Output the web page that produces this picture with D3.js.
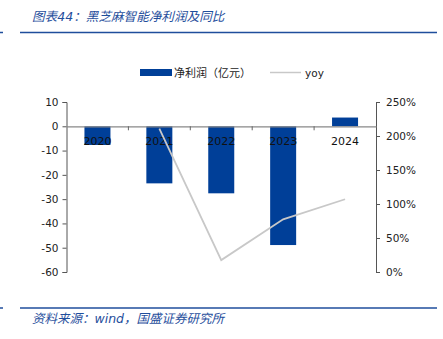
<!DOCTYPE html>
<html><head><meta charset="utf-8">
<script src="https://cdn.jsdelivr.net/npm/d3@7"></script>
<style>
body{margin:0;background:#fff;}
svg{display:block;}
text{font-family:"DejaVu Sans","Noto Sans CJK SC",sans-serif;}
</style></head>
<body>
<svg id="c" width="443" height="339"></svg>
<script>
const years = ["2020","2021","2022","2023","2024"];
const netProfit = [-7.7, -23.5, -27.6, -48.9, 3.6];
const yoy = [null, 211, 17.5, 77.5, 107];
const leftTicks = [10,0,-10,-20,-30,-40,-50,-60];
const rightTicks = [0,50,100,150,200,250];
const titleText = "图表44：黑芝麻智能净利润及同比";
const sourceText = "资料来源：wind，国盛证券研究所";
const legendLabels = ["净利润（亿元）","yoy"];

const svg = d3.select("#c");
const blue = "#003f98", titleBlue = "#1f4e9c", grey = "#c8c8c8", txt = "#222";
const L = 66.5, R = 376, T = 102, B = 272;

const x = d3.scaleBand().domain(years).range([L, R]).paddingInner(0.58).paddingOuter(0.29);
const xc = d3.scalePoint().domain(years).range([L, R]).padding(0.5);
const y = d3.scaleLinear().domain([-60, 10]).range([B, T]);
const y2 = d3.scaleLinear().domain([0, 250]).range([B, T]);

// title
svg.append("text").attr("x", 32).attr("y", 21).attr("fill", titleBlue)
  .attr("font-size", 12.6).attr("font-style", "italic")
  .attr("font-family", "'Noto Sans CJK SC',sans-serif").text(titleText);
svg.append("line").attr("x1", 20).attr("x2", 437).attr("y1", 32.5).attr("y2", 32.5)
  .attr("stroke", titleBlue).attr("stroke-width", 1.5);
svg.append("line").attr("x1", 0).attr("x2", 3).attr("y1", 32.5).attr("y2", 32.5)
  .attr("stroke", titleBlue).attr("stroke-width", 1.5);

// footer
svg.append("line").attr("x1", 20).attr("x2", 437).attr("y1", 308).attr("y2", 308)
  .attr("stroke", titleBlue).attr("stroke-width", 1.5);
svg.append("line").attr("x1", 0).attr("x2", 3).attr("y1", 308).attr("y2", 308)
  .attr("stroke", titleBlue).attr("stroke-width", 1.5);
svg.append("text").attr("x", 32).attr("y", 323).attr("fill", titleBlue)
  .attr("font-size", 12.5).attr("font-style", "italic")
  .attr("font-family", "'Noto Sans CJK SC',sans-serif").text(sourceText);

// legend
svg.append("rect").attr("x", 140).attr("y", 69).attr("width", 32).attr("height", 7).attr("fill", blue);
svg.append("text").attr("x", 174).attr("y", 76.5).attr("font-size", 11).attr("fill", txt)
  .attr("font-family", "'Noto Sans CJK SC',sans-serif").text(legendLabels[0]);
svg.append("line").attr("x1", 270).attr("x2", 301).attr("y1", 72.5).attr("y2", 72.5)
  .attr("stroke", grey).attr("stroke-width", 1.5);
svg.append("text").attr("x", 305).attr("y", 76.5).attr("font-size", 10.5).attr("fill", txt).text(legendLabels[1]);

// bars
svg.append("g").selectAll("rect").data(years).join("rect")
  .attr("x", d => x(d)).attr("width", x.bandwidth())
  .attr("y", (d,i) => y(Math.max(0, netProfit[i])))
  .attr("height", (d,i) => Math.abs(y(netProfit[i]) - y(0)))
  .attr("fill", blue);

// left axis
const ga = svg.append("g").attr("transform", `translate(${L},0)`)
  .call(d3.axisLeft(y).tickValues(leftTicks).tickFormat(d => String(d)).tickSize(4).tickPadding(4));
ga.selectAll("path,line").attr("stroke", "#555");
ga.selectAll("text").attr("font-size", 10.5).attr("fill", txt).attr("font-family", "'DejaVu Sans',sans-serif");

// right axis
const gr = svg.append("g").attr("transform", `translate(${R},0)`)
  .call(d3.axisRight(y2).tickValues(rightTicks).tickFormat(d => d + "%").tickSize(4).tickPadding(6));
gr.selectAll("path,line").attr("stroke", "#555");
gr.selectAll("text").attr("font-size", 10.5).attr("fill", txt);

// zero axis with category ticks
const gx = svg.append("g").attr("transform", `translate(0,${y(0)})`)
  .call(d3.axisBottom(x).tickSize(0).tickFormat(""));
gx.select("path").attr("stroke", "#888").attr("stroke-width", 1.2);
const step = x.step();
svg.append("g").selectAll("line").data(years.slice(1)).join("line")
  .attr("x1", d => xc(d) - step/2).attr("x2", d => xc(d) - step/2)
  .attr("y1", y(0)).attr("y2", y(0) + 4).attr("stroke", "#666");

// category labels
svg.append("g").selectAll("text").data(years).join("text")
  .attr("x", d => xc(d)).attr("y", y(0) + 19).attr("text-anchor", "middle")
  .attr("font-size", 11).attr("fill", "#111").text(d => d);

// yoy line
const pts = years.map((d,i) => [xc(d), yoy[i]]).filter(p => p[1] != null);
svg.append("path").datum(pts)
  .attr("d", d3.line().x(p => p[0]).y(p => y2(p[1])))
  .attr("fill", "none").attr("stroke", grey).attr("stroke-width", 1.8);
</script>
</body></html>
